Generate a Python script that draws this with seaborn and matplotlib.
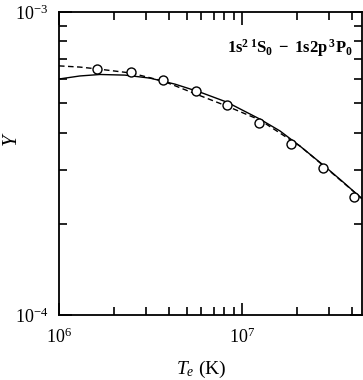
import numpy as np
import pandas as pd
import matplotlib
matplotlib.use('Agg')
import matplotlib.pyplot as plt
import matplotlib.ticker as mticker
import seaborn as sns

# open circles (data points)
pt_temp = [1.61e6, 2.47e6, 3.70e6, 5.61e6, 8.28e6, 1.24e7, 1.85e7, 2.77e7, 4.09e7]
pt_ups = [6.49e-4, 6.34e-4, 5.97e-4, 5.49e-4, 4.93e-4, 4.30e-4, 3.67e-4, 3.05e-4, 2.45e-4]

# solid curve
solid_temp = [1.0e6, 1.30e6, 1.675e6, 2.295e6, 3.143e6, 4.305e6, 5.895e6, 8.28e6,
              1.254e7, 1.613e7, 2.075e7, 2.771e7, 3.564e7, 4.53e7]
solid_ups = [6.01e-4, 6.15e-4, 6.22e-4, 6.19e-4, 6.05e-4, 5.78e-4, 5.44e-4, 5.04e-4,
             4.43e-4, 4.05e-4, 3.61e-4, 3.13e-4, 2.75e-4, 2.42e-4]

# dashed curve
dash_temp = [1.0e6, 1.30e6, 1.613e6, 2.474e6, 3.701e6, 5.606e6, 8.28e6, 1.254e7,
             2.075e7, 2.771e7, 3.564e7, 4.53e7]
dash_ups = [6.64e-4, 6.58e-4, 6.49e-4, 6.29e-4, 5.92e-4, 5.36e-4, 4.89e-4, 4.40e-4,
            3.61e-4, 3.12e-4, 2.74e-4, 2.42e-4]

sns.set_theme(style='ticks')
plt.rcParams['font.family'] = ['Liberation Serif', 'DejaVu Serif']
plt.rcParams['mathtext.fontset'] = 'custom'
plt.rcParams['mathtext.rm'] = 'Liberation Serif'
plt.rcParams['mathtext.it'] = 'Liberation Serif:italic'
plt.rcParams['mathtext.bf'] = 'Liberation Serif:bold'

fig = plt.figure(figsize=(3.63, 3.80), dpi=100)
ax = fig.add_axes([59 / 363, 65 / 380, 303 / 363, 303 / 380])

sns.lineplot(x=solid_temp, y=solid_ups, ax=ax, color='black', lw=1.0,
             estimator=None, sort=False)
sns.lineplot(x=dash_temp, y=dash_ups, ax=ax, color='black', lw=1.0,
             linestyle=(0, (4, 2.5)), estimator=None, sort=False)
sns.scatterplot(x=pt_temp, y=pt_ups, ax=ax, marker='o', s=42,
                facecolor='white', edgecolor='black', linewidth=1.0, zorder=3)

ax.set_xscale('log')
ax.set_yscale('log')
ax.set_xlim(1e6, 4.53e7)
ax.set_ylim(1e-4, 1e-3)
ax.xaxis.set_minor_formatter(mticker.NullFormatter())
ax.yaxis.set_minor_formatter(mticker.NullFormatter())

for s in ax.spines.values():
    s.set_color('black')
    s.set_linewidth(1.3)
ax.tick_params(which='both', direction='in', top=True, right=True, colors='black',
               labelsize=13)
ax.tick_params(which='major', length=9, width=1.2)
ax.tick_params(which='minor', length=6, width=1.2)
ax.tick_params(axis='x', pad=9)
ax.tick_params(axis='y', pad=8)

ax.set_xlabel(r'$\it{T_e}$ (K)', fontsize=14, color='black')
ax.set_ylabel('Υ', fontsize=15, style='italic', color='black')
ax.xaxis.set_label_coords(0.47, -0.145)
ax.yaxis.set_label_coords(-0.125, 0.58)

ax.text(0.97, 0.88, r'$\mathbf{1s^{2}\,{}^{1}S_{0}\ -\ 1s2p\,{}^{3}P_{0}}$',
        transform=ax.transAxes, ha='right', va='center', fontsize=12, color='black')

fig.savefig('out.png', dpi=100)
